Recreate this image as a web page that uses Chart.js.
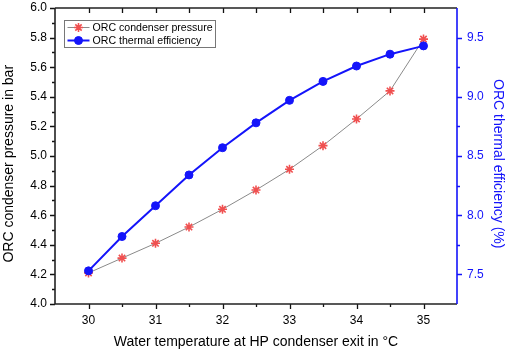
<!DOCTYPE html>
<html><head><meta charset="utf-8">
<script src="https://cdn.jsdelivr.net/npm/chart.js@4/dist/chart.umd.min.js"></script>
<style>html,body{margin:0;padding:0;background:#fff}#wrap{width:510px;height:356px}</style>
</head><body><div id="wrap"><canvas id="c" width="510" height="356"></canvas></div>
<script>
const temperatures = [30, 30.5, 31, 31.5, 32, 32.5, 33, 33.5, 34, 34.5, 35];
const condenserPressure = [4.21, 4.31, 4.41, 4.52, 4.64, 4.77, 4.91, 5.07, 5.25, 5.44, 5.79];
const thermalEfficiency = [7.53, 7.82, 8.08, 8.34, 8.57, 8.78, 8.97, 9.13, 9.26, 9.36, 9.43];
const xTickValues = [30, 31, 32, 33, 34, 35];
const leftTickValues = [4.0, 4.2, 4.4, 4.6, 4.8, 5.0, 5.2, 5.4, 5.6, 5.8, 6.0];
const rightTickValues = [7.5, 8.0, 8.5, 9.0, 9.5];
const seriesNames = ['ORC condenser pressure', 'ORC thermal efficiency'];

const BLUE = 'rgb(20,20,250)';
const RED = 'rgb(240,80,80)';
const GRAY = '#8a8a8a';
const FONT = "Arial, 'Liberation Sans', sans-serif";

function setTicks(values) {
  return function (scale) { scale.ticks = values.map(v => ({ value: v })); };
}

function stepsFor(min, max, step) {
  const out = [];
  const n = Math.round((max - min) / step);
  for (let i = 0; i <= n; i++) out.push(+(min + i * step).toFixed(6));
  return out;
}

function drawLegendPoint(ctx, d, x, y) {
  ctx.save();
  ctx.fillStyle = d.pointBackgroundColor;
  ctx.strokeStyle = d.pointBorderColor;
  ctx.lineWidth = d.pointBorderWidth;
  Chart.helpers.drawPoint(ctx, { pointStyle: d.pointStyle, radius: d.pointRadius, borderWidth: d.pointBorderWidth, rotation: 0 }, x, y);
  ctx.restore();
}

const framePlugin = {
  id: 'frame',
  afterDraw(chart) {
    const { ctx, chartArea: a, scales } = chart;
    const x = scales.x, yl = scales.y, yr = scales.y2;
    const L = Math.round(a.left), R = Math.round(a.right);
    const T = Math.round(a.top), B = Math.round(a.bottom);
    ctx.save();
    ctx.lineCap = 'butt';
    // ticks
    ctx.lineWidth = 1.3;
    ctx.strokeStyle = '#111';
    ctx.beginPath();
    stepsFor(x.min, x.max, 0.5).forEach(v => {
      if (v <= x.min || v >= x.max) return;
      const px = Math.round(x.getPixelForValue(v)) + 0.5;
      const major = Math.abs(v - Math.round(v)) < 1e-6;
      ctx.moveTo(px, B); ctx.lineTo(px, B + (major ? 5 : 3));
      ctx.moveTo(px, T); ctx.lineTo(px, T + 5);
    });
    stepsFor(yl.min, yl.max, 0.1).forEach((v, i) => {
      const py = Math.round(yl.getPixelForValue(v)) + 0.5;
      const major = i % 2 === 0;
      ctx.moveTo(L, py); ctx.lineTo(L - (major ? 5 : 3), py);
    });
    ctx.stroke();
    ctx.strokeStyle = BLUE;
    ctx.beginPath();
    stepsFor(7.5, 9.5, 0.25).forEach((v, i) => {
      const py = Math.round(yr.getPixelForValue(v)) + 0.5;
      const major = i % 2 === 0;
      ctx.moveTo(R, py); ctx.lineTo(R + (major ? 5 : 3), py);
    });
    ctx.stroke();
    // frame
    ctx.lineWidth = 1.6;
    ctx.strokeStyle = '#222';
    ctx.beginPath();
    ctx.moveTo(L, T); ctx.lineTo(L, B); ctx.lineTo(R, B);
    ctx.moveTo(L, T); ctx.lineTo(R, T);
    ctx.stroke();
    ctx.strokeStyle = BLUE;
    ctx.beginPath();
    ctx.moveTo(R, T); ctx.lineTo(R, B);
    ctx.stroke();

    // legend
    const ds = chart.data.datasets;
    const bx = L + 9.5, by = T + 12.5, bw = 151, bh = 27;
    ctx.fillStyle = '#fff';
    ctx.fillRect(bx, by, bw, bh);
    ctx.strokeStyle = '#777';
    ctx.lineWidth = 1;
    ctx.strokeRect(bx, by, bw, bh);
    ds.forEach((d, i) => {
      const cy = by + 7 + i * 13;
      ctx.strokeStyle = d.borderColor;
      ctx.lineWidth = d.borderWidth;
      ctx.beginPath();
      ctx.moveTo(bx + 3, cy); ctx.lineTo(bx + 25, cy);
      ctx.stroke();
      drawLegendPoint(ctx, d, bx + 14, cy);
      ctx.fillStyle = '#000';
      ctx.font = '10.6px ' + FONT;
      ctx.textBaseline = 'middle';
      ctx.textAlign = 'left';
      ctx.fillText(d.label, bx + 28, cy + 0.5);
    });
    ctx.restore();
  }
};

new Chart(document.getElementById('c'), {
  type: 'line',
  data: {
    datasets: [
      {
        label: seriesNames[0],
        data: temperatures.map((t, i) => ({ x: t, y: condenserPressure[i] })),
        yAxisID: 'y',
        borderColor: GRAY, borderWidth: 1,
        pointStyle: 'star', pointRadius: 4.5, pointBorderWidth: 1.6,
        pointBorderColor: RED, pointBackgroundColor: RED,
        tension: 0, order: 1
      },
      {
        label: seriesNames[1],
        data: temperatures.map((t, i) => ({ x: t, y: thermalEfficiency[i] })),
        yAxisID: 'y2',
        borderColor: BLUE, borderWidth: 2,
        pointStyle: 'circle', pointRadius: 4, pointBorderWidth: 1,
        pointBorderColor: BLUE, pointBackgroundColor: BLUE,
        tension: 0, order: 0
      }
    ]
  },
  options: {
    responsive: false,
    animation: false,
    layout: { padding: { top: 8, left: 0, right: 0, bottom: 0 } },
    plugins: { legend: { display: false }, tooltip: { enabled: false } },
    scales: {
      x: {
        type: 'linear', position: 'bottom', min: 29.5, max: 35.5,
        afterBuildTicks: setTicks(xTickValues),
        afterFit: s => { s.height = 52; s.paddingLeft = 0; s.paddingRight = 0; },
        grid: { display: false, drawTicks: false }, border: { display: false },
        ticks: { padding: 9, color: '#000', font: { size: 12, family: FONT }, callback: v => String(v), maxRotation: 0, autoSkip: false },
        title: { display: true, text: 'Water temperature at HP condenser exit in \u00B0C', color: '#000', font: { size: 14, family: FONT }, padding: { top: 0, bottom: 5 } }
      },
      y: {
        type: 'linear', position: 'left', min: 4, max: 6,
        afterBuildTicks: setTicks(leftTickValues),
        afterFit: s => { s.width = 55; s.paddingTop = 0; s.paddingBottom = 0; },
        grid: { display: false, drawTicks: false }, border: { display: false },
        ticks: { padding: 8, color: '#000', font: { size: 12, family: FONT }, callback: v => v.toFixed(1), autoSkip: false },
        title: { display: true, text: 'ORC condenser pressure in bar    ', color: '#000', font: { size: 14, family: FONT }, padding: { top: 1, bottom: 0 } }
      },
      y2: {
        type: 'linear', position: 'right', min: 7.25, max: 9.75,
        afterBuildTicks: setTicks(rightTickValues),
        afterFit: s => { s.width = 53; s.paddingTop = 0; s.paddingBottom = 0; },
        grid: { display: false, drawTicks: false }, border: { display: false },
        ticks: { padding: 10, color: BLUE, font: { size: 12, family: FONT }, callback: v => v.toFixed(1), autoSkip: false },
        title: { display: true, text: '    ORC thermal efficiency (%)', color: BLUE, font: { size: 14, family: FONT }, padding: { top: 4, bottom: 0 } }
      }
    }
  },
  plugins: [framePlugin]
});
</script>
</body></html>
